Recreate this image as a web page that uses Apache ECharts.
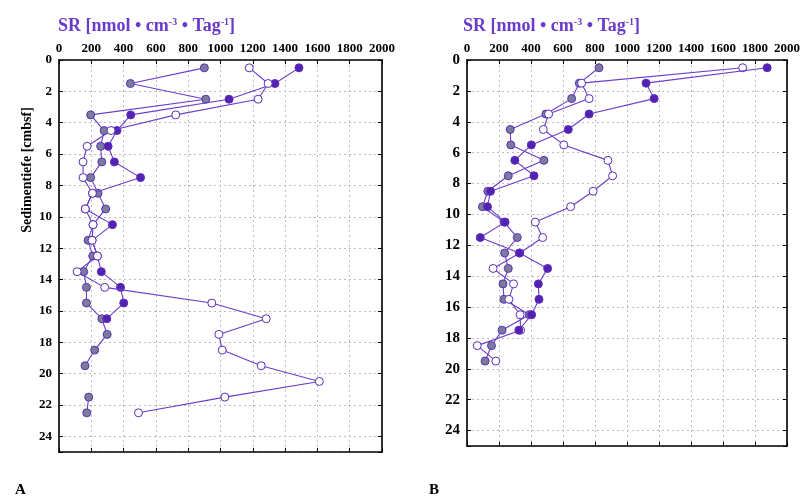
<!DOCTYPE html>
<html>
<head>
<meta charset="utf-8">
<script src="https://cdn.jsdelivr.net/npm/echarts@6/dist/echarts.min.js"></script>
<style>
  html, body { margin: 0; padding: 0; background: #fff; }
  #chart { width: 803px; height: 497px; }
</style>
</head>
<body>
<div id="chart"></div>
<script>
// Sulfate reduction rate profiles, two cores (A, B)
const depthsA = [0.5, 1.5, 2.5, 3.5, 4.5, 5.5, 6.5, 7.5, 8.5, 9.5, 10.5, 11.5,
                 12.5, 13.5, 14.5, 15.5, 16.5, 17.5, 18.5, 19.5, 20.5, 21.5, 22.5];
const greyA   = [900, 442, 909, 196, 279, 258, 265, 196, 242, 289, 211, 180,
                 209, 153, 170, 170, 265, 298, 221, 161, null, 184, 172];
const purpleA = [1486, 1337, 1053, 444, 359, 304, 343, 505, 207, 163, 331, 205,
                 238, 262, 381, 401, 296, null, null, null, null, null, null];
const openA   = [1178, 1295, 1233, 723, 322, 174, 149, 149, 207, 163, 211, 205,
                 238, 112, 283, 946, 1283, 990, 1011, 1252, 1612, 1027, 492];

const depthsB = [0.5, 1.5, 2.5, 3.5, 4.5, 5.5, 6.5, 7.5, 8.5, 9.5,
                 10.5, 11.5, 12.5, 13.5, 14.5, 15.5, 16.5, 17.5, 18.5, 19.5];
const greyB   = [825, 702, 654, 493, 270, 274, 481, 258, 130, 97,
                 232, 314, 235, 258, 225, 231, 390, 219, 153, 113];
const purpleB = [1876, 1119, 1170, 763, 633, 402, 299, 419, 147, 128,
                 238, 83, 328, 504, 446, 450, 404, 324, null, null];
const openB   = [1723, 716, 763, 510, 477, 605, 881, 910, 788, 648,
                 427, 473, 330, 163, 291, 262, 332, 335, 64, 180];

const xTicks = [0, 200, 400, 600, 800, 1000, 1200, 1400, 1600, 1800, 2000];
const yTicks = [0, 2, 4, 6, 8, 10, 12, 14, 16, 18, 20, 22, 24];

const FONT = '"Liberation Serif", "DejaVu Serif", serif';
const LINE = '#6a3ccb';
const EDGE = '#5a2fbb';

function pairs(depths, vals) {
  return depths.map((d, i) => vals[i] == null ? '-' : [vals[i], d]);
}

const grids = [
  { left: 59, top: 60, width: 323, height: 392 },
  { left: 467, top: 60, width: 323, height: 386 }
];

const xAxis = [];
const yAxis = [];
grids.forEach((g, gi) => {
  const tickStyle = { show: true, inside: true, length: 4, lineStyle: { color: '#000', width: 1 } };
  const lineStyle = { show: true, onZero: false, lineStyle: { color: '#000', width: 1.6 } };
  xAxis.push({
    gridIndex: gi, type: 'value', position: 'top', min: 0, max: 2000, interval: 200,
    axisLine: lineStyle, axisTick: tickStyle,
    axisLabel: { color: '#000', fontFamily: FONT, fontWeight: 'bold', fontSize: 13, margin: 5,
                 formatter: v => xTicks.includes(v) ? String(v) : '' },
    splitLine: { show: true, lineStyle: { color: '#bdbdbd', type: [2, 3], width: 1 } }
  });
  xAxis.push({
    gridIndex: gi, type: 'value', position: 'bottom', min: 0, max: 2000, interval: 200,
    axisLine: lineStyle, axisTick: tickStyle, axisLabel: { show: false }, splitLine: { show: false }
  });
  yAxis.push({
    gridIndex: gi, type: 'value', position: 'left', inverse: true, min: 0, max: 25, interval: 2,
    axisLine: lineStyle, axisTick: tickStyle,
    axisLabel: { color: '#000', fontFamily: FONT, fontWeight: 'bold', fontSize: gi === 0 ? 13 : 15, margin: 7,
                 formatter: v => yTicks.includes(v) ? String(v) : '' },
    splitLine: { show: true, lineStyle: { color: '#bdbdbd', type: [2, 3], width: 1 } }
  });
  yAxis.push({
    gridIndex: gi, type: 'value', position: 'right', inverse: true, min: 0, max: 25, interval: 2,
    axisLine: lineStyle, axisTick: tickStyle, axisLabel: { show: false }, splitLine: { show: false }
  });
});

function profile(name, gi, depths, vals, fill, z) {
  return {
    name, type: 'line', xAxisIndex: gi * 2, yAxisIndex: gi * 2,
    data: pairs(depths, vals), z,
    symbol: 'circle', symbolSize: 8, showAllSymbol: true,
    lineStyle: { color: LINE, width: 1.1 },
    itemStyle: { color: fill, borderColor: EDGE, borderWidth: 1 },
    animation: false
  };
}

const series = [
  profile('grau A', 0, depthsA, greyA, '#7b7b9a', 2),
  profile('violett A', 0, depthsA, purpleA, '#5421b3', 3),
  profile('offen A', 0, depthsA, openA, '#ffffff', 4),
  profile('grau B', 1, depthsB, greyB, '#7b7b9a', 2),
  profile('offen B', 1, depthsB, openB, '#ffffff', 3),
  profile('violett B', 1, depthsB, purpleB, '#5421b3', 4)
];

const titleRich = {
  a: { fontFamily: FONT, fontWeight: 'bold', fontSize: 18, color: '#6a3ccb' },
  s: { fontFamily: FONT, fontWeight: 'bold', fontSize: 10, color: '#6a3ccb', verticalAlign: 'top', padding: [0, 0, 8, 0] }
};
const titleText = '{a|SR [nmol • cm}{s|-3}{a| • Tag}{s|-1}{a|]}';

const chart = echarts.init(document.getElementById('chart'), null, { renderer: 'canvas' });
chart.setOption({
  animation: false,
  backgroundColor: '#fff',
  title: [
    { text: titleText, left: 53, top: 12, textStyle: { rich: titleRich } },
    { text: titleText, left: 458, top: 12, textStyle: { rich: titleRich } },
    { text: 'A', left: 10, top: 478, textStyle: { fontFamily: FONT, fontWeight: 'bold', fontSize: 15, color: '#000' } },
    { text: 'B', left: 424, top: 478, textStyle: { fontFamily: FONT, fontWeight: 'bold', fontSize: 15, color: '#000' } }
  ],
  graphic: [{
    type: 'text', x: 27, y: 170, rotation: Math.PI / 2,
    style: { text: 'Sedimentiefe [cmbsf]', font: 'bold 14px ' + FONT, fill: '#000',
             align: 'center', verticalAlign: 'middle' }
  }],
  grid: grids,
  xAxis, yAxis, series
});
</script>
</body>
</html>
